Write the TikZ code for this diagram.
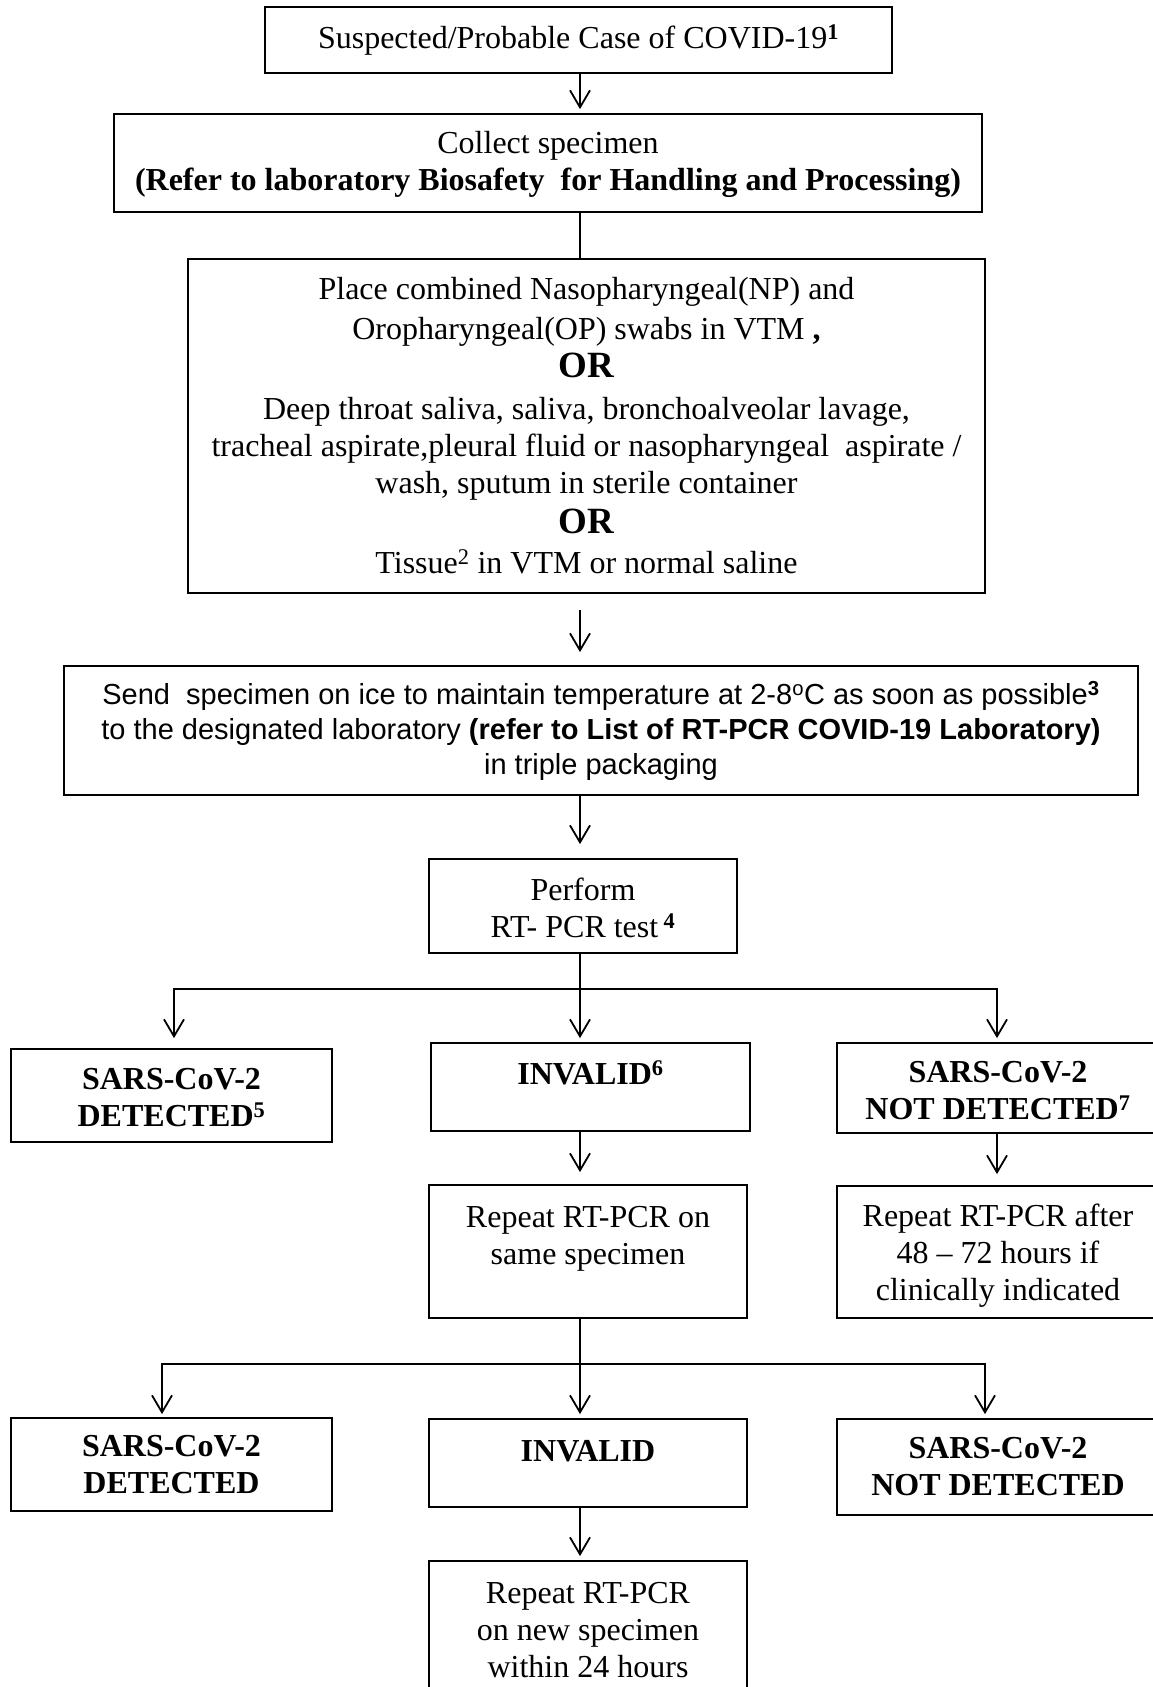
\documentclass[tikz,border=0pt]{standalone}
\usepackage{fontspec}
\setmainfont{Liberation Serif}
\newfontfamily\arialfont{Liberation Sans}
\usetikzlibrary{arrows.meta}
\begin{document}
\begin{tikzpicture}[x=1pt,y=-1pt,
  box/.style={draw, line width=1.8pt, inner sep=0pt, align=center,
    font=\fontsize{32}{37}\selectfont},
  boldbox/.style={box, font=\fontsize{32}{37}\selectfont\bfseries},
  conn/.style={line width=1.8pt},
  arr/.style={conn, -{Straight Barb[length=17pt,width=20pt]}},
]
\useasboundingbox (0,0) rectangle (1153,1687);
\fill[white] (0,0) rectangle (1153,1687);
\clip (0,0) rectangle (1153,1687);

\node[box, minimum width=627pt, minimum height=66pt] (b1) at (578.5,40)
  {Suspected/Probable Case of COVID-19\textsuperscript{\textbf{1}}};
\node[box, minimum width=868pt, minimum height=98pt] (b2) at (548,163)
  {\strut Collect specimen\\\textbf{(Refer to laboratory Biosafety\ \ for Handling and Processing)}};
\node[box, minimum width=797pt, minimum height=334pt] (b3) at (586.5,426)
  {Place combined Nasopharyngeal(NP) and\\[3pt]
   Oropharyngeal(OP) swabs in VTM \textbf{,}\\[1pt]
   {\fontsize{37}{40}\selectfont\bfseries OR}\\[5pt]
   Deep throat saliva, saliva, bronchoalveolar lavage,\\
   tracheal aspirate,pleural fluid or nasopharyngeal\ \ aspirate /\\
   wash, sputum in sterile container\\[3pt]
   {\fontsize{37}{40}\selectfont\bfseries OR}\\[3pt]
   Tissue\textsuperscript{2} in VTM or normal saline};
\node[box, minimum width=1074pt, minimum height=129pt,
  font=\arialfont\fontsize{29}{35}\selectfont] (b4) at (601,730.5)
  {Send\ \ specimen on ice to maintain temperature at 2-8\textsuperscript{o}C as soon as possible\textsuperscript{\textbf{3}}\\
   to the designated laboratory \textbf{(refer to List of RT-PCR COVID-19 Laboratory)}\\
   in triple packaging};
\node[box, minimum width=308pt, minimum height=94pt] (b5) at (583,906)
  {\strut Perform\\RT- PCR test\,\textsuperscript{\textbf{4}}};

\node[boldbox, minimum width=321pt, minimum height=93pt] (l1) at (171.5,1095.5)
  {\strut SARS-CoV-2\\DETECTED\textsuperscript{5}};
\node[boldbox, minimum width=319pt, minimum height=88pt] (i1) at (590.5,1087)
  {INVALID\textsuperscript{6}\\[-20pt]\strut};
\node[boldbox, minimum width=322pt, minimum height=90pt] (r1) at (998,1088)
  {\strut SARS-CoV-2\\NOT DETECTED\textsuperscript{7}};
\node[box, minimum width=318pt, minimum height=133pt] (s1) at (588,1251.5)
  {Repeat RT-PCR on\\same specimen\\[-16pt]\strut};
\node[box, minimum width=322pt, minimum height=132pt] (a1) at (998,1252)
  {\rule{0pt}{30pt}Repeat RT-PCR after\\48 -- 72 hours if\\clinically indicated};

\node[boldbox, minimum width=321pt, minimum height=93pt] (l2) at (171.5,1464.5)
  {SARS-CoV-2\\DETECTED};
\node[boldbox, minimum width=318pt, minimum height=88pt] (i2) at (588,1463)
  {INVALID\\[-24pt]\strut};
\node[boldbox, minimum width=322pt, minimum height=96pt] (r2) at (998,1467)
  {SARS-CoV-2\\NOT DETECTED};
\node[box, minimum width=318pt, minimum height=139pt] (n) at (588,1630.5)
  {Repeat RT-PCR\\on new specimen\\within 24 hours};

\coordinate (sp) at (580,0);
\coordinate (c3) at (580,610);
\coordinate (jl) at (174,989);
\coordinate (jm) at (580,989);
\coordinate (jr) at (997,989);
\coordinate (kl) at (162,1364);
\coordinate (km) at (580,1364);
\coordinate (kr) at (985,1364);

\draw[arr, shorten >=4pt] (b1.south -| sp) -- (b2.north -| sp);
\draw[conn] (b2.south -| sp) -- (b3.north -| sp);
\draw[arr, shorten >=13pt] (c3) -- (b4.north -| c3);
\draw[arr, shorten >=14pt] (b4.south -| sp) -- (b5.north -| sp);
\draw[arr, shorten >=4pt] (b5.south -| sp) -- (i1.north -| sp);
\draw[arr, shorten >=10pt] (jm) -- (jl) -- (l1.north -| jl);
\draw[arr, shorten >=4pt] (jm) -- (jr) -- (r1.north -| jr);
\draw[arr, shorten >=12pt] (i1.south -| sp) -- (s1.north -| sp);
\draw[arr, shorten >=11pt] (r1.south -| jr) -- (a1.north -| jr);
\draw[arr, shorten >=4pt] (s1.south -| sp) -- (i2.north -| sp);
\draw[arr, shorten >=3pt] (km) -- (kl) -- (l2.north -| kl);
\draw[arr, shorten >=4pt] (km) -- (kr) -- (r2.north -| kr);
\draw[arr, shorten >=4pt] (i2.south -| sp) -- (n.north -| sp);
\end{tikzpicture}
\end{document}
